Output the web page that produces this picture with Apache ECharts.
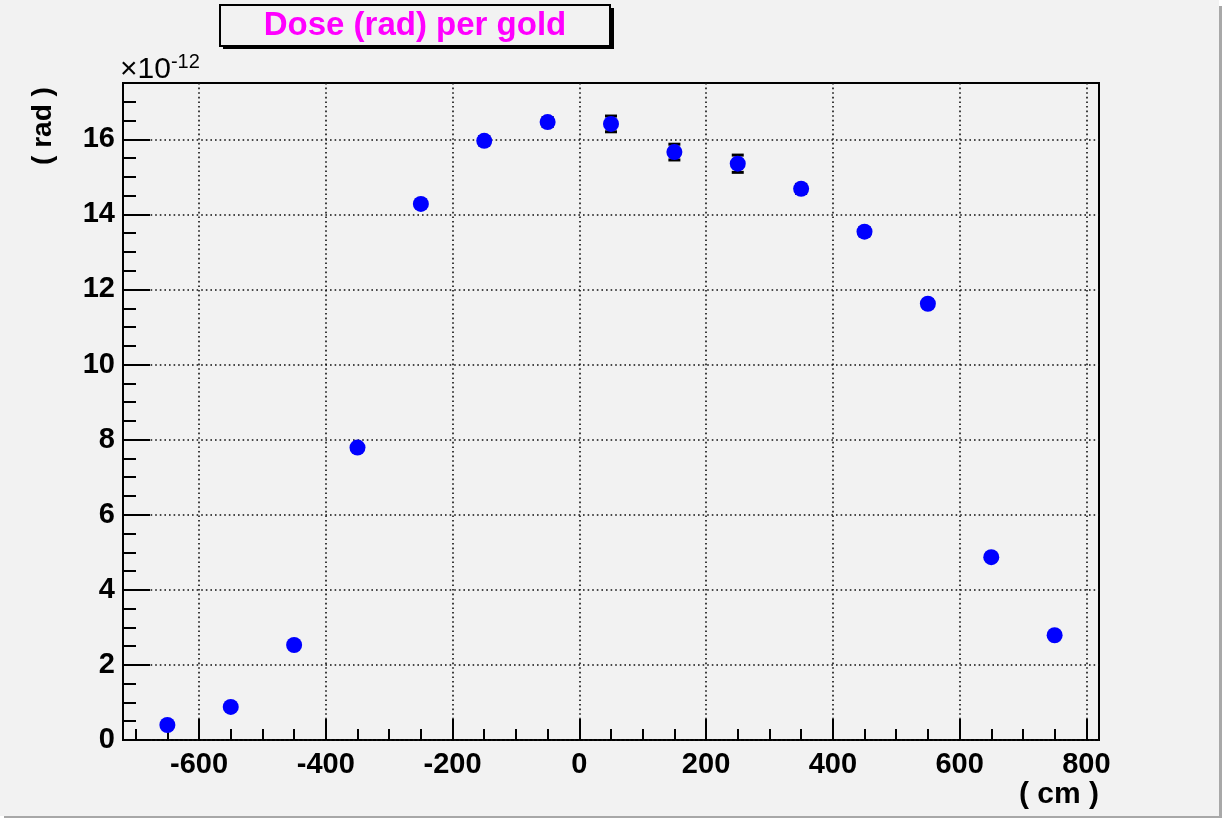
<!DOCTYPE html>
<html><head><meta charset="utf-8">
<script src="https://cdn.jsdelivr.net/npm/echarts@6/dist/echarts.min.js"></script>
<style>html,body{margin:0;padding:0;background:#fff}#c{width:1225px;height:820px}</style>
</head><body><div id="c"></div>
<script>
// Data (x in cm, dose in units of 1e-12 rad)
const positions = [-650, -550, -450, -350, -250, -150, -50, 50, 150, 250, 350, 450, 550, 650, 750];
const dose = [0.40, 0.88, 2.53, 7.79, 14.28, 15.96, 16.46, 16.41, 15.66, 15.35, 14.68, 13.54, 11.62, 4.87, 2.79];
const doseErr = [0.03, 0.04, 0.05, 0.08, 0.10, 0.11, 0.12, 0.21, 0.21, 0.23, 0.12, 0.11, 0.10, 0.08, 0.06];
const xTickLabels = [-600, -400, -200, 0, 200, 400, 600, 800];
const yTickLabels = [0, 2, 4, 6, 8, 10, 12, 14, 16];
const titleText = 'Dose (rad) per gold';
const xTitle = '( cm )';
const yTitle = '( rad )';

const xMin = -720, xMax = 820, yMin = 0, yMax = 17.5;
const xMinor = []; for (let v = -700; v <= 800; v += 50) xMinor.push(v);
const yMinor = []; for (let v = 0.5; v <= 17.5; v += 0.5) yMinor.push(v);

const F = 'Liberation Sans, Arial, Helvetica, sans-serif';
const chart = echarts.init(document.getElementById('c'), null, {renderer: 'canvas'});
const G = {left: 123, right: 126, top: 83, bottom: 80};

const gridLine = {show: true, lineStyle: {color: '#111', width: 1.6, type: [1.6, 3]}};
const noLine = {show: false, onZero: false};

chart.setOption({
  backgroundColor: '#f2f2f2',
  animation: false,
  grid: {left: G.left, right: G.right, top: G.top, bottom: G.bottom, show: true, borderColor: '#000', borderWidth: 2, backgroundColor: 'transparent'},
  xAxis: [{
    type: 'value', min: xMin, max: xMax,
    axisLine: noLine,
    axisTick: {show: true, inside: true, length: 21, lineStyle: {color: '#000', width: 2}, customValues: xTickLabels},
    axisLabel: {customValues: xTickLabels, color: '#000', fontFamily: F, fontWeight: 'bold', fontSize: 29, margin: 10},
    splitLine: gridLine
  }, {
    type: 'value', min: xMin, max: xMax, position: 'bottom',
    axisLine: noLine,
    axisTick: {show: true, inside: true, length: 11, lineStyle: {color: '#000', width: 2}, customValues: xMinor},
    axisLabel: {show: false}, splitLine: {show: false}
  }],
  yAxis: [{
    type: 'value', min: yMin, max: yMax, position: 'left',
    axisLine: noLine,
    axisTick: {show: true, inside: true, length: 27, lineStyle: {color: '#000', width: 2}, customValues: yTickLabels},
    axisLabel: {customValues: yTickLabels, color: '#000', fontFamily: F, fontWeight: 'bold', fontSize: 29, margin: 8},
    splitLine: gridLine
  }, {
    type: 'value', min: yMin, max: yMax, position: 'left',
    axisLine: noLine,
    axisTick: {show: true, inside: true, length: 13, lineStyle: {color: '#000', width: 2}, customValues: yMinor},
    axisLabel: {show: false}, splitLine: {show: false}
  }],
  graphic: [
    {type: 'rect', shape: {x: 1219, y: 0, width: 6, height: 820}, style: {fill: '#fff'}, z: 100},
    {type: 'rect', shape: {x: 1219, y: 6, width: 3, height: 812}, style: {fill: '#a8a8a8'}, z: 101},
    {type: 'rect', shape: {x: 0, y: 816, width: 1225, height: 4}, style: {fill: '#fff'}, z: 100},
    {type: 'rect', shape: {x: 4, y: 816, width: 1218, height: 2}, style: {fill: '#a8a8a8'}, z: 101},
    {type: 'rect', shape: {x: 223, y: 8, width: 391, height: 41}, style: {fill: '#000'}, z: 100},
    {type: 'rect', shape: {x: 220, y: 5, width: 390, height: 41}, style: {fill: '#f2f2f2', stroke: '#000', lineWidth: 2}, z: 101},
    {type: 'text', x: 415, y: 26, style: {text: titleText, fill: '#ff00ff', font: 'bold 33px ' + F, textAlign: 'center', textVerticalAlign: 'middle'}, z: 102},
    {type: 'text', x: 120, y: 70, style: {rich: {a: {fontSize: 30, fontFamily: F, fill: '#000'}, b: {fontSize: 20, fontFamily: F, fill: '#000', verticalAlign: 'top', padding: [0,0,16,0]}}, text: '{a|×10}{b|-12}', textVerticalAlign: 'middle'}, z: 102},
    {type: 'text', x: 43, y: 126, rotation: Math.PI / 2, style: {text: yTitle, fill: '#000', font: 'bold 28px ' + F, textAlign: 'center', textVerticalAlign: 'middle'}, z: 102},
    {type: 'text', x: 1059, y: 795, style: {text: xTitle, fill: '#000', font: 'bold 30px ' + F, textAlign: 'center', textVerticalAlign: 'middle'}, z: 102}
  ],
  series: [{
    type: 'custom', xAxisIndex: 0, yAxisIndex: 0,
    data: positions.map((x, i) => [x, dose[i] - doseErr[i], dose[i] + doseErr[i]]),
    renderItem: function (params, api) {
      const lo = api.coord([api.value(0), api.value(1)]);
      const hi = api.coord([api.value(0), api.value(2)]);
      const w = 6;
      return {type: 'group', children: [
        {type: 'line', shape: {x1: lo[0], y1: lo[1], x2: hi[0], y2: hi[1]}, style: {stroke: '#000', lineWidth: 2}},
        {type: 'line', shape: {x1: lo[0] - w, y1: lo[1], x2: lo[0] + w, y2: lo[1]}, style: {stroke: '#000', lineWidth: 3}},
        {type: 'line', shape: {x1: hi[0] - w, y1: hi[1], x2: hi[0] + w, y2: hi[1]}, style: {stroke: '#000', lineWidth: 3}}
      ]};
    },
    z: 3
  }, {
    type: 'scatter', xAxisIndex: 0, yAxisIndex: 0,
    data: positions.map((x, i) => [x, dose[i]]),
    symbol: 'circle', symbolSize: 16,
    itemStyle: {color: '#0000ff', opacity: 1},
    z: 4
  }]
});
</script></body></html>
